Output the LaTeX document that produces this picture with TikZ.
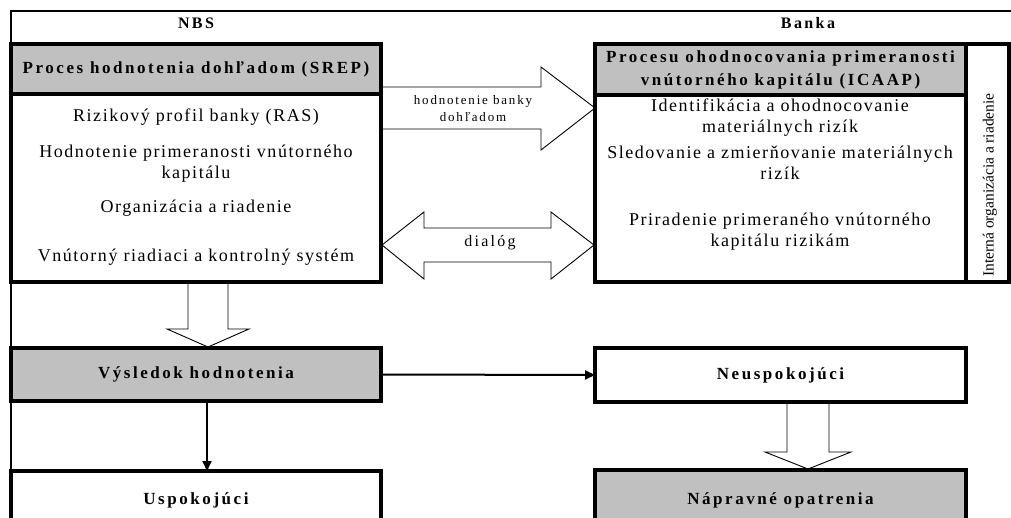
\documentclass[tikz,border=0pt]{standalone}
\usepackage{fontspec}
\setmainfont{Liberation Serif}
\newfontfamily\regsp{Liberation Serif}[LetterSpace=8.5,Ligatures=NoCommon]
\newfontfamily\boldsp{Liberation Serif}[LetterSpace=15,Ligatures=NoCommon]
\newfontfamily\smallsp{Liberation Serif}[LetterSpace=14,Ligatures=NoCommon]
\newfontfamily\plainrm{Liberation Serif}
\usetikzlibrary{arrows.meta}
\definecolor{boxgray}{RGB}{192,192,192}
\tikzset{
  box/.style={draw, line width=3.2pt, inner sep=0pt, outer sep=0pt, anchor=north west},
  graybox/.style={box, fill=boxgray},
  txt/.style={font=\regsp\fontsize{18}{21}\selectfont, align=center, inner sep=0pt},
  btxt/.style={font=\boldsp\bfseries\fontsize{17}{23}\selectfont, align=center},
  ttl/.style={font=\boldsp\bfseries\fontsize{16}{19}\selectfont, inner sep=0pt},
  lbl/.style={font=\smallsp\fontsize{13}{17}\selectfont, align=center, inner sep=0pt},
  hollow/.style={draw, line width=0.9pt, fill=white, line join=miter},
  conn/.style={line width=2pt, -{Triangle[length=10pt,width=9pt]}},
  frame/.style={line width=2.6pt}
}
\begin{document}
\begin{tikzpicture}[x=1pt,y=-1pt]
\useasboundingbox (0,0) rectangle (1011,517);
\clip (0,0) rectangle (1011,517);
\fill[white] (0,0) rectangle (1011,517);
% outer frame
\draw[frame] (11,517) -- (11,11) -- (1011,11);
\node[ttl] (nbs) at (196,23) {NBS};
\node[ttl] (banka) at (808,23) {Banka};
% hollow arrows (drawn first)
\draw[hollow] (381,87) -- (541,87) -- (541,67) -- (595,108) -- (541,150) -- (541,129) -- (381,129) -- cycle;
\draw[hollow] (382,245) -- (424,212) -- (424,228) -- (551,228) -- (551,212) -- (594,245) -- (551,279) -- (551,262) -- (424,262) -- (424,279) -- cycle;
\draw[hollow] (188,282) -- (188,329) -- (167,329) -- (208,347) -- (249,329) -- (228,329) -- (228,282);
\draw[hollow] (787,402) -- (787,452) -- (765,452) -- (808,469) -- (851,452) -- (829,452) -- (829,402);
\node[lbl] (hb) at (473,109) {hodnotenie banky\\dohľadom};
\node[font=\smallsp\fontsize{16}{19}\selectfont, inner sep=0pt] (dia) at (490,243) {dialóg};
% SREP box
\node[box, minimum width=370, minimum height=238] (srep) at (11,44) {};
\node[graybox, minimum width=370, minimum height=50, btxt] (srephead) at (11,44) {Proces hodnotenia dohľadom (SREP)};
\node[txt] (s1) at (196,117) {Rizikový profil banky (RAS)};
\node[txt] (s2) at (196,164) {Hodnotenie primeranosti vnútorného\\kapitálu};
\node[txt] (s3) at (196,208) {Organizácia a riadenie};
\node[txt] (s4) at (196,257) {Vnútorný riadiaci a kontrolný systém};
% ICAAP box
\node[box, minimum width=371, minimum height=238] (icaap) at (595,44) {};
\node[graybox, minimum width=371, minimum height=51, btxt] (icaaphead) at (595,44) {Procesu ohodnocovania primeranosti\\vnútorného kapitálu (ICAAP)};
\node[box, minimum width=43, minimum height=238] (strip) at (966,44) {};
\node[font=\plainrm\fontsize{15.5}{18}\selectfont, rotate=90, inner sep=0pt] (int) at (990,185) {Interná organizácia a riadenie};
\node[txt] (i1) at (780,117.5) {Identifikácia a ohodnocovanie\\materiálnych rizík};
\node[txt] (i2) at (780,162.5) {Sledovanie a zmierňovanie materiálnych\\rizík};
\node[txt] (i3) at (780,232) {Priradenie primeraného vnútorného\\kapitálu rizikám};
% lower boxes
\node[graybox, minimum width=370, minimum height=53, btxt] (vy) at (11,348) {Výsledok hodnotenia};
\node[box, minimum width=370, minimum height=58, btxt] (us) at (11,471) {Uspokojúci};
\node[box, minimum width=371, minimum height=54, btxt] (ne) at (595,348) {Neuspokojúci};
\node[graybox, minimum width=371, minimum height=60, btxt] (na) at (595,470) {Nápravné opatrenia};
% connectors
\draw[conn] (vy.east) -- (ne.west);
\draw[conn] ([xshift=11pt]vy.south) -- ([xshift=11pt]us.north);
\end{tikzpicture}
\end{document}
